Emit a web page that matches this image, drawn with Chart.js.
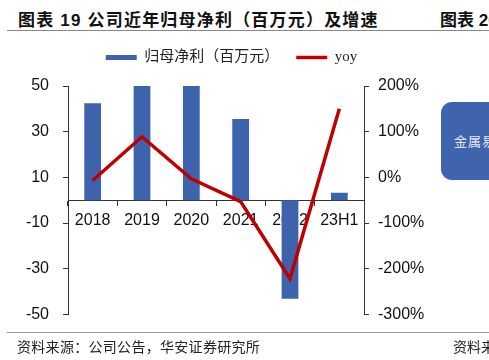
<!DOCTYPE html>
<html><head><meta charset="utf-8">
<script src="https://cdn.jsdelivr.net/npm/chart.js@4"></script>
<style>
html,body{margin:0;padding:0;width:489px;height:360px;overflow:hidden;background:#fff;position:relative}
.t{position:absolute;white-space:nowrap}
#title{left:18px;top:6px;font:bold 17px "Liberation Sans","Noto Sans CJK SC";color:#111;letter-spacing:1.2px}
#title2{left:440px;top:6px;font:bold 17px "Liberation Sans","Noto Sans CJK SC";color:#111;letter-spacing:0px}
#ln1{position:absolute;left:7px;top:30px;width:482px;height:0;border-top:1.5px solid #888}
#ln2{position:absolute;left:7px;top:332px;width:482px;height:0;border-top:1.5px solid #999}
#src{left:17px;top:336px;font:14px "Noto Sans CJK SC";color:#222;letter-spacing:0.3px}
#src2{left:453px;top:336px;font:14px "Noto Sans CJK SC";color:#222}
#box{position:absolute;left:441px;top:102px;width:70px;height:78px;border-radius:11px;background:#3F63AC}
#boxt{left:454px;top:131px;font:13px "Noto Sans CJK SC";color:#e3e9f4;letter-spacing:1px}
#wrap{position:absolute;left:0;top:33px;width:463px;height:305px}
</style></head><body>
<div class="t" id="title">图表 19 公司近年归母净利（百万元）及增速</div>
<div class="t" id="title2">图表 20</div>
<div id="ln1"></div>
<div id="box"></div>
<div class="t" id="boxt">金属易</div>
<div id="wrap"><canvas id="c"></canvas></div>
<div id="ln2"></div>
<div class="t" id="src">资料来源：公司公告，华安证券研究所</div>
<div class="t" id="src2">资料来</div>
<script>
const categories = ['2018','2019','2020','2021','2022','23H1'];
const profit = [42.4, 50, 50, 35.5, -43.2, 3.3];
const yoy = [-7, 89, -3, -53, -222, 150];
const leftTicks = [-50, -30, -10, 10, 30, 50];
const rightTicks = [-300, -200, -100, 0, 100, 200];
const seriesNames = ['归母净利（百万元）', 'yoy'];

const legendGap = {
  id: 'legendGap',
  beforeLayout(chart) {
    const lg = chart.legend;
    if (lg && !lg._patched) {
      const f = lg.fit;
      lg.fit = function() { f.call(this); this.height += 11; };
      lg._patched = true;
    }
  }
};

const tickFont = {family: '"Liberation Sans", Arial', size: 16};
new Chart(document.getElementById('c'), {
  data: {
    labels: categories,
    datasets: [
      {type: 'line', label: seriesNames[1], data: yoy, yAxisID: 'y1', borderColor: '#C00000', backgroundColor: '#C00000',
       borderWidth: 3.5, pointRadius: 0, tension: 0, pointStyle: 'line', order: 0},
      {type: 'bar', label: seriesNames[0], data: profit, yAxisID: 'y', backgroundColor: '#3D63AD', borderWidth: 0,
       barPercentage: 0.34, categoryPercentage: 1, pointStyle: 'rect', order: 1}
    ]
  },
  options: {
    responsive: true, maintainAspectRatio: false, animation: false,
    layout: {padding: {left: 0, right: 0, top: 0, bottom: 17}},
    plugins: {
      tooltip: {enabled: false},
      legend: {
        display: true, position: 'top', reverse: true,
        labels: {usePointStyle: true, pointStyleWidth: 31, boxHeight: 5, padding: 17, color: '#222',
                 font: {family: '"Liberation Serif", "Noto Sans CJK SC"', size: 15}}
      }
    },
    scales: {
      x: {
        position: {y: 0}, z: 1,
        grid: {display: true, drawOnChartArea: false, offset: true, tickLength: 5, color: '#333'},
        border: {display: true, color: '#333', width: 1},
        ticks: {font: tickFont, color: '#111', padding: 6, maxRotation: 0}
      },
      y: {
        position: 'left', min: -50, max: 50,
        afterBuildTicks: s => { s.ticks = leftTicks.map(v => ({value: v})); },
        afterFit: s => { s.width = 68; },
        grid: {display: true, drawOnChartArea: false, tickLength: 5, color: '#333'},
        border: {display: true, color: '#333', width: 1},
        ticks: {font: tickFont, color: '#111', padding: 14}
      },
      y1: {
        position: 'right', min: -300, max: 200,
        afterBuildTicks: s => { s.ticks = rightTicks.map(v => ({value: v})); },
        afterFit: s => { s.width = 99; },
        grid: {display: true, drawOnChartArea: false, tickLength: 5, color: '#333'},
        border: {display: true, color: '#333', width: 1},
        ticks: {font: tickFont, color: '#111', padding: 9, callback: v => v + '%'}
      }
    }
  },
  plugins: [legendGap]
});
</script>
</body></html>
